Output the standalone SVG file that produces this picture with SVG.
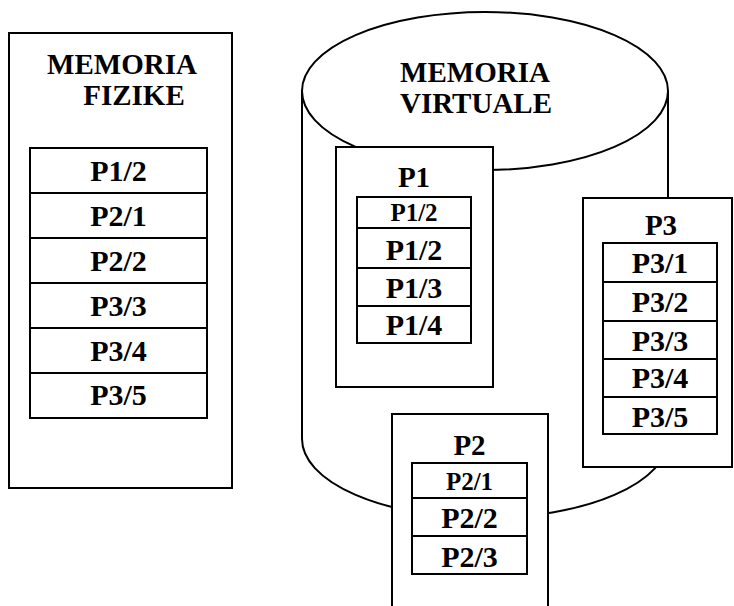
<svg xmlns="http://www.w3.org/2000/svg" width="734" height="606" viewBox="0 0 734 606">
<style>
  .box{fill:#fff;stroke:#000;stroke-width:2}
  .cyl{fill:#fff;stroke:#000;stroke-width:2}
  text{font-weight:bold;fill:#000;text-anchor:middle}
  .t{font-size:29px}
  .c{font-size:30px}
  .s{font-size:25px}
</style>
<rect width="734" height="606" fill="#fff"/>
<g font-family="'Liberation Serif', 'DejaVu Serif', 'Times New Roman', serif">
<g id="memoria-fizike">
  <rect class="box" x="9" y="33" width="223" height="455"/>
  <text class="t" x="122" y="74">MEMORIA</text>
  <text class="t" x="134" y="105">FIZIKE</text>
  <g id="fizike-table">
    <rect class="box" x="30" y="148" width="177" height="45"/>
    <rect class="box" x="30" y="193" width="177" height="45"/>
    <rect class="box" x="30" y="238" width="177" height="45"/>
    <rect class="box" x="30" y="283" width="177" height="45"/>
    <rect class="box" x="30" y="328" width="177" height="45"/>
    <rect class="box" x="30" y="373" width="177" height="45"/>
    <text class="c" x="118.5" y="181">P1/2</text>
    <text class="c" x="118.5" y="226">P2/1</text>
    <text class="c" x="118.5" y="271">P2/2</text>
    <text class="c" x="118.5" y="316">P3/3</text>
    <text class="c" x="118.5" y="361">P3/4</text>
    <text class="c" x="118.5" y="405">P3/5</text>
  </g>
</g>
<g id="memoria-virtuale">
  <path class="cyl" d="M302,91 L302,439 A183,79 0 0 0 668,439 L668,91 Z"/>
  <ellipse class="cyl" cx="485" cy="91" rx="183" ry="79"/>
  <text class="t" x="475" y="82">MEMORIA</text>
  <text class="t" x="476" y="113">VIRTUALE</text>
</g>
<g id="connectors"></g>
<g id="p1">
  <rect class="box" x="336" y="147" width="157" height="240"/>
  <text class="t" x="414" y="187">P1</text>
  <rect class="box" x="357" y="197" width="114" height="31"/>
  <rect class="box" x="357" y="228" width="114" height="40"/>
  <rect class="box" x="357" y="268" width="114" height="38"/>
  <rect class="box" x="357" y="306" width="114" height="37"/>
  <text class="s" x="414" y="221">P1/2</text>
  <text class="c" x="414" y="260">P1/2</text>
  <text class="c" x="414" y="298">P1/3</text>
  <text class="c" x="414" y="335">P1/4</text>
</g>
<g id="p3">
  <rect class="box" x="583" y="198" width="149" height="269"/>
  <text class="t" x="661" y="235">P3</text>
  <rect class="box" x="603" y="243" width="114" height="39"/>
  <rect class="box" x="603" y="282" width="114" height="39"/>
  <rect class="box" x="603" y="321" width="114" height="38"/>
  <rect class="box" x="603" y="359" width="114" height="38"/>
  <rect class="box" x="603" y="397" width="114" height="37"/>
  <text class="c" x="660" y="273">P3/1</text>
  <text class="c" x="660" y="312">P3/2</text>
  <text class="c" x="660" y="351">P3/3</text>
  <text class="c" x="660" y="388">P3/4</text>
  <text class="c" x="660" y="427">P3/5</text>
</g>
<g id="p2">
  <rect class="box" x="392" y="414" width="156" height="200"/>
  <text class="t" x="469.5" y="455">P2</text>
  <rect class="box" x="412" y="463" width="115" height="35"/>
  <rect class="box" x="412" y="498" width="115" height="38"/>
  <rect class="box" x="412" y="536" width="115" height="38"/>
  <text class="s" x="469.5" y="490">P2/1</text>
  <text class="c" x="469.5" y="528">P2/2</text>
  <text class="c" x="469.5" y="567">P2/3</text>
</g>
</g>
</svg>
